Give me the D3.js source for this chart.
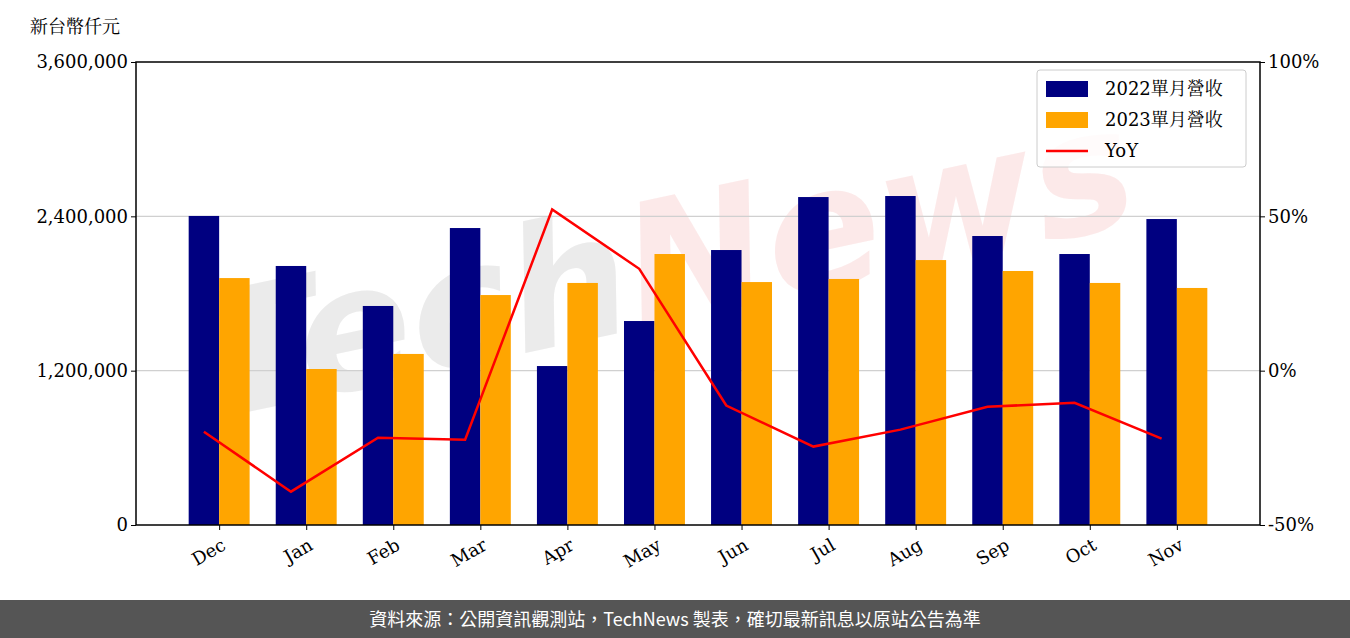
<!DOCTYPE html>
<html><head><meta charset="utf-8">
<script src="https://cdn.jsdelivr.net/npm/d3@7"></script>
<style>body{margin:0;background:#fff}svg{display:block}</style>
</head><body>
<script>
const months = ["Dec","Jan","Feb","Mar","Apr","May","Jun","Jul","Aug","Sep","Oct","Nov"];
const rev2022 = [2403000,2014000,1703000,2309000,1236000,1586000,2138000,2550000,2558000,2247000,2107000,2379000];
const rev2023 = [1920000,1213000,1330000,1788000,1882000,2107000,1889000,1913000,2060000,1975000,1882000,1843000];
const yoy = [-19.8,-39.2,-21.7,-22.4,52.2,33.0,-11.3,-24.6,-19.1,-11.7,-10.4,-22.0];
const leftTicks = [0,1200000,2400000,3600000];
const rightTicks = [-50,0,50,100];

const W=1350,H=638, L=136,R=1260,T=62,B=525;
const serif = "'DejaVu Serif','Noto Serif CJK TC','Noto Sans CJK TC',serif";
const svg=d3.select("body").append("svg").attr("width",W).attr("height",H);

const x=d3.scaleLinear().domain([-0.955,11.955]).range([L,R]);
const y=d3.scaleLinear().domain([0,3600000]).range([B,T]);
const y2=d3.scaleLinear().domain([-50,100]).range([B,T]);
const bw=x(0.35)-x(0);

// watermark
const wm=svg.append("text").attr("transform","translate(680,320) rotate(-12)")
  .attr("text-anchor","middle").attr("font-family","'DejaVu Sans',sans-serif")
  .attr("font-size",170).attr("font-weight","bold").attr("font-style","italic");
wm.append("tspan").attr("fill","#d8d8d8").attr("fill-opacity",0.5).text("Tech");
wm.append("tspan").attr("fill","#f5c0c0").attr("fill-opacity",0.35).text("News");

// grid
svg.append("g").selectAll("line").data(leftTicks.slice(1,3)).join("line")
  .attr("x1",L).attr("x2",R).attr("y1",d=>y(d)).attr("y2",d=>y(d))
  .attr("stroke","#d0d0d0").attr("stroke-width",1.2);

svg.append("g").selectAll("rect").data(rev2022).join("rect")
  .attr("x",(d,i)=>x(i)-bw).attr("width",bw).attr("y",d=>y(d)).attr("height",d=>B-y(d)).attr("fill","#000080");
svg.append("g").selectAll("rect").data(rev2023).join("rect")
  .attr("x",(d,i)=>x(i)).attr("width",bw).attr("y",d=>y(d)).attr("height",d=>B-y(d)).attr("fill","#ffa500");

svg.append("path").datum(yoy).attr("fill","none").attr("stroke","#ff0000").attr("stroke-width",2.5)
  .attr("d",d3.line().x((d,i)=>x(i)-bw/2).y(d=>y2(d)));

// axes
const fmt=d3.format(",");
const ax=svg.append("g").attr("transform",`translate(${L},0)`)
  .call(d3.axisLeft(y).tickValues(leftTicks).tickFormat(fmt).tickSize(5));
const ax2=svg.append("g").attr("transform",`translate(${R},0)`)
  .call(d3.axisRight(y2).tickValues(rightTicks).tickFormat(d=>d+"%").tickSize(5));
const axb=svg.append("g").attr("transform",`translate(0,${B})`)
  .call(d3.axisBottom(x).tickValues(d3.range(12)).tickFormat(i=>months[i]).tickSize(5));
axb.selectAll("text").attr("text-anchor","end").attr("transform","rotate(-30)").attr("dx","-0.3em").attr("dy","0.9em");
[ax,ax2,axb].forEach(g=>{g.select(".domain").remove();
  g.selectAll("text").attr("font-family",serif).attr("font-size",18).attr("fill","#000");
  g.selectAll("line").attr("stroke","#000");});
svg.append("rect").attr("x",L).attr("y",T).attr("width",R-L).attr("height",B-T)
  .attr("fill","none").attr("stroke","#000").attr("stroke-width",1.5);

svg.append("text").attr("x",30).attr("y",33).attr("font-family",serif).attr("font-size",18).text("新台幣仟元");

// legend
const lg=svg.append("g").attr("transform","translate(1037,70)");
lg.append("rect").attr("width",209).attr("height",97).attr("rx",3).attr("fill","#fff").attr("fill-opacity",0.8).attr("stroke","#ccc");
const items=[["2022單月營收","#000080","bar"],["2023單月營收","#ffa500","bar"],["YoY","#ff0000","line"]];
items.forEach((it,i)=>{const cy=19+i*31;
  if(it[2]==="bar") lg.append("rect").attr("x",9).attr("y",cy-8).attr("width",42).attr("height",16).attr("fill",it[1]);
  else lg.append("line").attr("x1",9).attr("x2",51).attr("y1",cy).attr("y2",cy).attr("stroke",it[1]).attr("stroke-width",2.5);
  lg.append("text").attr("x",68).attr("y",cy+6).attr("font-family",serif).attr("font-size",18).text(it[0]);});

// footer
svg.append("rect").attr("x",0).attr("y",600).attr("width",W).attr("height",38).attr("fill","#555");
svg.append("text").attr("x",W/2).attr("y",626).attr("text-anchor","middle").attr("fill","#fff")
  .attr("font-family","'Noto Sans CJK TC',sans-serif").attr("font-size",18)
  .text("資料來源：公開資訊觀測站，TechNews 製表，確切最新訊息以原站公告為準");
</script>
</body></html>
